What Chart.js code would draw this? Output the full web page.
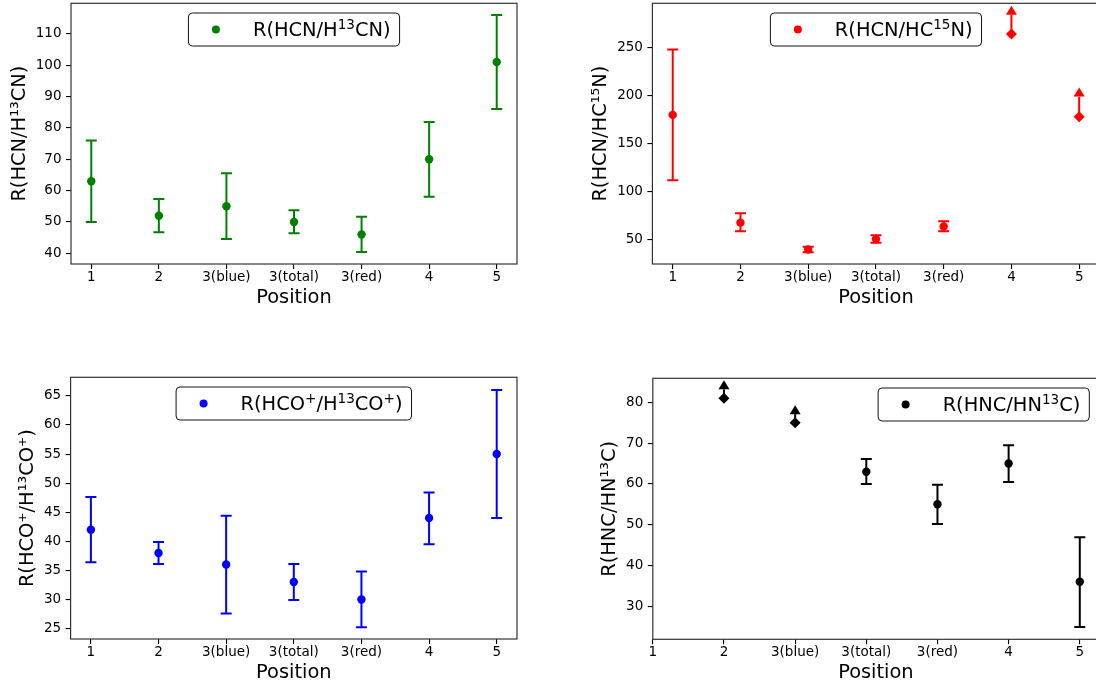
<!DOCTYPE html>
<html>
<head>
<meta charset="utf-8">
<script src="https://cdn.jsdelivr.net/npm/chart.js@4.4.0/dist/chart.umd.min.js"></script>
<style>
  html, body { margin: 0; padding: 0; background: #fff; overflow: hidden; }
  #page { position: relative; width: 1096px; height: 685px; overflow: hidden; }
  canvas { position: absolute; }
</style>
</head>
<body>
<div id="page">
  <canvas id="c1" width="540" height="315" style="left:0px;top:0px"></canvas>
  <canvas id="c2" width="580" height="315" style="left:540px;top:0px"></canvas>
  <canvas id="c3" width="540" height="345" style="left:0px;top:340px"></canvas>
  <canvas id="c4" width="580" height="345" style="left:540px;top:340px"></canvas>
</div>
<script>
var positions = ['1', '2', '3(blue)', '3(total)', '3(red)', '4', '5'];

// R(HCN/H13CN)
var hcnH13cn   = [63, 52, 55, 50, 46, 70, 101];
var hcnH13cnLo = [50, 46.7, 44.6, 46.4, 40.4, 58, 86];
var hcnH13cnHi = [76, 57.3, 65.5, 53.7, 51.7, 81.9, 116];

// R(HCN/HC15N) - positions 4 and 5 are lower limits
var hcnHc15n    = [180, 68, 40, 51, 64, 264, 178];
var hcnHc15nLo  = [112, 59, 37.2, 47.2, 59, null, null];
var hcnHc15nHi  = [248, 77.7, 43, 55, 69.4, 284, 199];
var hcnHc15nLim = [false, false, false, false, false, true, true];

// R(HCO+/H13CO+)
var hcoH13co   = [42, 38, 36, 33, 30, 44, 55];
var hcoH13coLo = [36.4, 36.1, 27.6, 29.9, 25.2, 39.5, 44];
var hcoH13coHi = [47.6, 39.9, 44.4, 36.1, 34.8, 48.4, 66];

// R(HNC/HN13C) - no value at 1, positions 2 and 3(blue) are lower limits
var hncHn13c    = [null, 81, 75, 63, 55, 65, 36];
var hncHn13cLo  = [null, null, null, 60, 50.2, 60.5, 24.9];
var hncHn13cHi  = [null, 83.2, 77.1, 66.1, 59.8, 69.5, 46.9];
var hncHn13cLim = [false, true, true, false, false, false, false];

var yTicksHcn   = [40, 50, 60, 70, 80, 90, 100, 110];
var yTicksHc15n = [50, 100, 150, 200, 250];
var yTicksHco   = [25, 30, 35, 40, 45, 50, 55, 60, 65];
var yTicksHnc   = [30, 40, 50, 60, 70, 80];

Chart.defaults.font.family = "'DejaVu Sans', sans-serif";

var TICK_FONT = 13.5;
var LABEL_FONT = 19.4;

// legend text pieces: [text, isSuperscript]
function drawRich(ctx, parts, x, y, size) {
  parts.forEach(function (pt) {
    var sup = pt[1];
    ctx.font = (sup ? size * 0.7 : size) + "px 'DejaVu Sans'";
    ctx.fillText(pt[0], x, sup ? y - size * 0.36 : y);
    x += ctx.measureText(pt[0]).width;
  });
  return x;
}
function richWidth(ctx, parts, size) {
  var w = 0;
  parts.forEach(function (pt) {
    ctx.font = (pt[1] ? size * 0.7 : size) + "px 'DejaVu Sans'";
    w += ctx.measureText(pt[0]).width;
  });
  return w;
}

function panelPlugin(p) {
  return {
    id: 'panel' + p.id,
    beforeDatasetsDraw: function (chart) {
      var ctx = chart.ctx, xs = chart.scales.x, ys = chart.scales.y;
      ctx.save();
      ctx.strokeStyle = p.color;
      ctx.fillStyle = p.color;
      ctx.lineWidth = 2;
      p.values.forEach(function (v, i) {
        if (v == null) return;
        var px = xs.getPixelForValue(i), py = ys.getPixelForValue(v);
        if (p.lim && p.lim[i]) {
          var top = ys.getPixelForValue(p.hi[i]);
          ctx.beginPath();
          ctx.moveTo(px, py); ctx.lineTo(px, top);
          ctx.stroke();
          ctx.beginPath();
          ctx.moveTo(px - 5.5, top); ctx.lineTo(px + 5.5, top); ctx.lineTo(px, top - 9);
          ctx.closePath();
          ctx.fill();
        } else {
          var a = ys.getPixelForValue(p.lo[i]), b = ys.getPixelForValue(p.hi[i]);
          ctx.beginPath();
          ctx.moveTo(px, a); ctx.lineTo(px, b);
          ctx.moveTo(px - 5.5, a); ctx.lineTo(px + 5.5, a);
          ctx.moveTo(px - 5.5, b); ctx.lineTo(px + 5.5, b);
          ctx.stroke();
        }
      });
      ctx.restore();
    },
    afterDatasetsDraw: function (chart) {
      var ctx = chart.ctx, area = chart.chartArea;
      ctx.save();
      // axes frame
      ctx.strokeStyle = '#333';
      ctx.lineWidth = 1.2;
      ctx.strokeRect(area.left, area.top, area.right - area.left, area.bottom - area.top);
      // legend box
      var tw = richWidth(ctx, p.legendParts, LABEL_FONT);
      var w = 64.5 + tw + 9, h = 33;
      var x = p.legendLoc === 'right' ? area.right - 9.7 - w : (area.left + area.right) / 2 - w / 2;
      var y = area.top + 9.7;
      ctx.beginPath();
      ctx.roundRect(x, y, w, h, 4);
      ctx.fillStyle = 'rgba(255,255,255,0.8)';
      ctx.fill();
      ctx.strokeStyle = '#111';
      ctx.lineWidth = 1;
      ctx.stroke();
      ctx.fillStyle = p.color;
      ctx.beginPath();
      ctx.arc(x + 27.5, y + 16.5, 4, 0, Math.PI * 2);
      ctx.fill();
      ctx.fillStyle = '#000';
      ctx.textBaseline = 'alphabetic';
      drawRich(ctx, p.legendParts, x + 64.5, y + 23, LABEL_FONT);
      ctx.restore();
    }
  };
}

function makeChart(p) {
  var pts = [], styles = [], radii = [];
  p.values.forEach(function (v, i) {
    if (v == null) return;
    pts.push({x: i, y: v});
    var isLim = p.lim && p.lim[i];
    styles.push(isLim ? 'rectRot' : 'circle');
    radii.push(isLim ? 5.5 : 4.2);
  });
  return new Chart(document.getElementById(p.id), {
    type: 'scatter',
    data: {
      datasets: [{
        label: p.label,
        data: pts,
        backgroundColor: p.color,
        borderColor: p.color,
        borderWidth: 0,
        pointStyle: styles,
        pointRadius: radii,
        pointHoverRadius: radii
      }]
    },
    options: {
      responsive: false,
      animation: false,
      events: [],
      layout: {autoPadding: false, padding: {left: 0, top: p.padTop, right: p.padRight, bottom: 0}},
      plugins: {legend: {display: false}, tooltip: {enabled: false}},
      scales: {
        x: {
          type: 'linear',
          min: p.xMin,
          max: p.xMax,
          afterBuildTicks: function (s) { s.ticks = positions.map(function (t, i) { return {value: i}; }); },
          afterFit: function (s) { s.height = p.xHeight; s.paddingLeft = 0; s.paddingRight = 0; },
          ticks: {
            callback: function (v) { return positions[v]; },
            autoSkip: false, maxRotation: 0, padding: 0,
            color: '#000', font: {size: TICK_FONT}
          },
          grid: {drawOnChartArea: false, tickLength: 5, color: '#000', lineWidth: 1.1},
          border: {display: false},
          title: {display: true, text: 'Position', color: '#000', font: {size: LABEL_FONT}, padding: {top: 0, bottom: p.xTitlePad}}
        },
        y: {
          type: 'linear',
          min: p.yMin,
          max: p.yMax,
          afterBuildTicks: function (s) { s.ticks = p.yTicks.map(function (v) { return {value: v}; }); },
          afterFit: function (s) { s.width = p.yWidth; s.paddingTop = 0; s.paddingBottom = 0; },
          ticks: {padding: 4.5, color: '#000', font: {size: TICK_FONT}},
          grid: {drawOnChartArea: false, tickLength: 5, color: '#000', lineWidth: 1.1},
          border: {display: false},
          title: {display: true, text: p.yTitle, color: '#000', font: {size: LABEL_FONT}, padding: {top: p.yTitlePad, bottom: 0}}
        }
      }
    },
    plugins: [panelPlugin(p)]
  });
}

makeChart({
  id: 'c1', label: 'R(HCN/H13CN)', yTitle: 'R(HCN/H¹³CN)', color: '#008000',
  legendParts: [['R(HCN/H', false], ['13', true], ['CN)', false]],
  values: hcnH13cn, lo: hcnH13cnLo, hi: hcnH13cnHi, lim: null, yTicks: yTicksHcn,
  xMin: -0.3, xMax: 6.3, yMin: 36.6, yMax: 119.7,
  yWidth: 71, padTop: 3.3, padRight: 23, xHeight: 51, yTitlePad: 8, xTitlePad: 5.2, legendLoc: 'center'
});
makeChart({
  id: 'c2', label: 'R(HCN/HC15N)', yTitle: 'R(HCN/HC¹⁵N)', color: '#ff0000',
  legendParts: [['R(HCN/HC', false], ['15', true], ['N)', false]],
  values: hcnHc15n, lo: hcnHc15nLo, hi: hcnHc15nHi, lim: hcnHc15nLim, yTicks: yTicksHc15n,
  xMin: -0.3, xMax: 6.3, yMin: 25, yMax: 296,
  yWidth: 112.4, padTop: 3.3, padRight: 20.5, xHeight: 51, yTitlePad: 49.2, xTitlePad: 5.2, legendLoc: 'center'
});
makeChart({
  id: 'c3', label: 'R(HCO+/H13CO+)', yTitle: 'R(HCO⁺/H¹³CO⁺)', color: '#0000ff',
  legendParts: [['R(HCO', false], ['+', true], ['/H', false], ['13', true], ['CO', false], ['+', true], [')', false]],
  values: hcoH13co, lo: hcoH13coLo, hi: hcoH13coHi, lim: null, yTicks: yTicksHco,
  xMin: -0.3, xMax: 6.3, yMin: 23.2, yMax: 68.2,
  yWidth: 70.6, padTop: 37.3, padRight: 23, xHeight: 46, yTitlePad: 15.9, xTitlePad: 0, legendLoc: 'center'
});
makeChart({
  id: 'c4', label: 'R(HNC/HN13C)', yTitle: 'R(HNC/HN¹³C)', color: '#000000',
  legendParts: [['R(HNC/HN', false], ['13', true], ['C)', false]],
  values: hncHn13c, lo: hncHn13cLo, hi: hncHn13cHi, lim: hncHn13cLim, yTicks: yTicksHnc,
  xMin: 0, xMax: 6.27, yMin: 21.9, yMax: 85.9,
  yWidth: 112.8, padTop: 38.3, padRight: 21, xHeight: 45.7, yTitlePad: 58.6, xTitlePad: 0, legendLoc: 'right'
});
</script>
</body>
</html>
